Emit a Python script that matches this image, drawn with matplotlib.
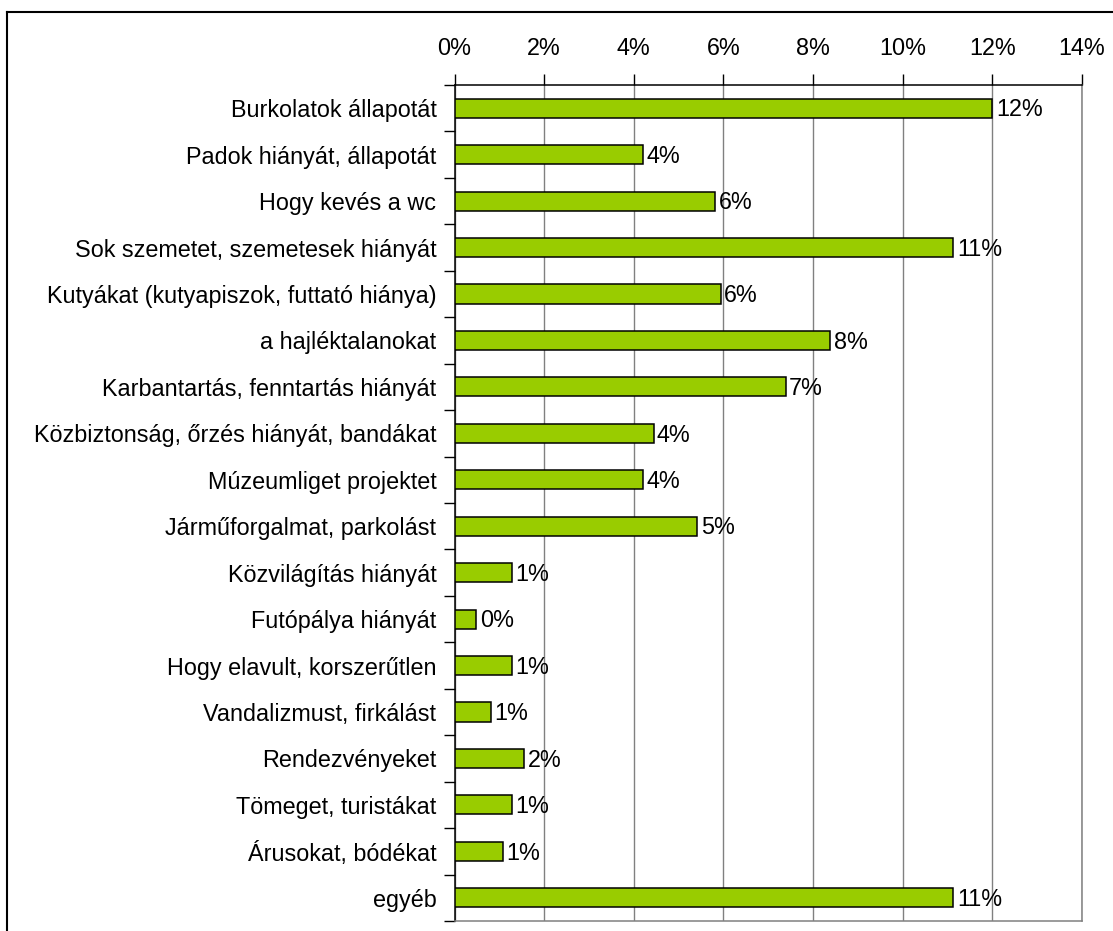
import matplotlib
matplotlib.use("Agg")
import matplotlib.pyplot as plt
from matplotlib.ticker import FixedLocator, PercentFormatter
from matplotlib.lines import Line2D

categories = [
    "Burkolatok állapotát",
    "Padok hiányát, állapotát",
    "Hogy kevés a wc",
    "Sok szemetet, szemetesek hiányát",
    "Kutyákat (kutyapiszok, futtató hiánya)",
    "a hajléktalanokat",
    "Karbantartás, fenntartás hiányát",
    "Közbiztonság, őrzés hiányát, bandákat",
    "Múzeumliget projektet",
    "Járműforgalmat, parkolást",
    "Közvilágítás hiányát",
    "Futópálya hiányát",
    "Hogy elavult, korszerűtlen",
    "Vandalizmust, firkálást",
    "Rendezvényeket",
    "Tömeget, turistákat",
    "Árusokat, bódékat",
    "egyéb",
]
values = [12.0, 4.21, 5.82, 11.13, 5.94, 8.38, 7.39, 4.44, 4.21, 5.42,
          1.28, 0.49, 1.28, 0.81, 1.55, 1.28, 1.08, 11.13]
xticks = [0, 2, 4, 6, 8, 10, 12, 14]

plt.rcParams['font.family'] = ['Liberation Sans', 'DejaVu Sans']
FS = 16.8

fig = plt.figure(figsize=(11.13, 9.31), dpi=100)
W, H = 1113, 931
ax = fig.add_axes([454.5 / W, 1 - 921 / H, (1082 - 454.5) / W, (921 - 85) / H])

n = len(categories)
ypos = list(range(n))
ax.barh(ypos, values, height=0.41, color="#99CC00", edgecolor="black", linewidth=1.1, zorder=3)

for y, v in zip(ypos, values):
    ax.annotate(f"{v:.0f}%", xy=(v, y), xytext=(2.5, -1.2), textcoords="offset points",
                va="center", ha="left", fontsize=FS, color="black", zorder=4)

ax.set_xlim(0, 14)
ax.set_ylim(n - 0.5, -0.5)
ax.xaxis.set_major_locator(FixedLocator(xticks))
ax.xaxis.set_major_formatter(PercentFormatter(decimals=0))
ax.xaxis.tick_top()
ax.tick_params(axis="x", which="major", direction="out", length=8, width=1,
               labelsize=FS, pad=10, color="black")
ax.grid(axis="x", color="#808080", linewidth=1, zorder=0)

ax.set_yticks(ypos)
ax.set_yticklabels(categories)
ax.tick_params(axis="y", which="major", length=0, labelsize=FS, pad=13)
ax.yaxis.set_minor_locator(FixedLocator([i - 0.5 for i in range(n + 1)]))
ax.tick_params(axis="y", which="minor", direction="out", length=8, width=1, color="black")

ax.spines["left"].set_color("black")
ax.spines["top"].set_color("black")
ax.spines["right"].set_color("#808080")
ax.spines["bottom"].set_color("#808080")
for s in ax.spines.values():
    s.set_linewidth(1.1)

# outer chart border (cut off at right/bottom in the reference)
fig.add_artist(Line2D([7 / W, 7 / W], [0, 1 - 12 / H], transform=fig.transFigure, color="black", linewidth=1.5))
fig.add_artist(Line2D([7 / W, 1], [1 - 12 / H, 1 - 12 / H], transform=fig.transFigure, color="black", linewidth=1.5))

fig.savefig("out.png", dpi=100)
